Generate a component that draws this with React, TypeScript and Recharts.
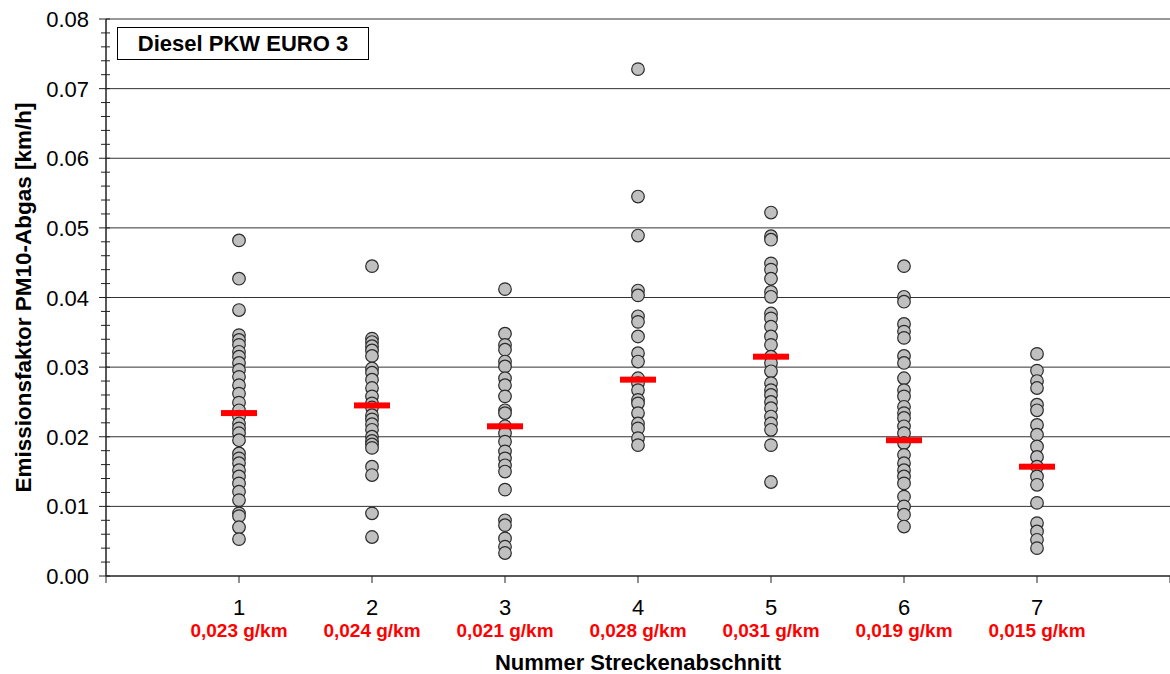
import React from 'react';
import { ScatterChart, Scatter, XAxis, YAxis, ReferenceLine } from 'recharts';

const sections = [1, 2, 3, 4, 5, 6, 7];
const meanLabels = ['0,023 g/km', '0,024 g/km', '0,021 g/km', '0,028 g/km', '0,031 g/km', '0,019 g/km', '0,015 g/km'];
const meanValues = [0.0234, 0.0245, 0.0215, 0.0282, 0.0315, 0.0195, 0.0157];

const s1 = [0.0482, 0.0427, 0.0382, 0.0346, 0.0339, 0.0332, 0.0322, 0.0315, 0.0306, 0.0296, 0.0286, 0.0274, 0.0262, 0.0249, 0.0238, 0.0229, 0.0219, 0.0212, 0.0205, 0.0195, 0.0176, 0.0169, 0.0162, 0.0152, 0.0143, 0.0133, 0.0121, 0.0109, 0.0090, 0.0086, 0.0070, 0.0053];
const s2 = [0.0445, 0.0341, 0.0336, 0.0330, 0.0324, 0.0316, 0.0298, 0.0292, 0.0282, 0.0270, 0.0258, 0.0248, 0.0242, 0.0231, 0.0225, 0.0218, 0.0210, 0.0200, 0.0194, 0.0189, 0.0184, 0.0157, 0.0145, 0.0090, 0.0056];
const s3 = [0.0412, 0.0348, 0.0332, 0.0325, 0.0308, 0.0301, 0.0284, 0.0274, 0.0258, 0.0238, 0.0234, 0.0215, 0.0205, 0.0193, 0.0179, 0.0169, 0.0159, 0.0150, 0.0124, 0.0080, 0.0073, 0.0054, 0.0042, 0.0033];
const s4 = [0.0728, 0.0545, 0.0489, 0.0410, 0.0403, 0.0373, 0.0365, 0.0344, 0.0320, 0.0308, 0.0284, 0.0277, 0.0267, 0.0253, 0.0248, 0.0234, 0.0219, 0.0212, 0.0198, 0.0188];
const s5 = [0.0522, 0.0488, 0.0483, 0.0449, 0.0440, 0.0427, 0.0408, 0.0401, 0.0377, 0.0370, 0.0358, 0.0344, 0.0332, 0.0315, 0.0306, 0.0294, 0.0277, 0.0267, 0.0260, 0.0250, 0.0241, 0.0229, 0.0219, 0.0210, 0.0188, 0.0135];
const s6 = [0.0445, 0.0401, 0.0394, 0.0362, 0.0351, 0.0342, 0.0316, 0.0306, 0.0284, 0.0267, 0.0258, 0.0243, 0.0234, 0.0227, 0.0215, 0.0205, 0.0191, 0.0174, 0.0162, 0.0152, 0.0143, 0.0133, 0.0114, 0.0100, 0.0088, 0.0071];
const s7 = [0.0319, 0.0295, 0.0280, 0.0270, 0.0246, 0.0238, 0.0217, 0.0203, 0.0186, 0.0171, 0.0157, 0.0143, 0.0131, 0.0105, 0.0076, 0.0064, 0.0052, 0.0040];
const seriesValues = [s1, s2, s3, s4, s5, s6, s7];

const yTicks: number[] = [];
for (let i = 0; i <= 40; i++) yTicks.push(Math.round(i * 2) / 1000);
const yMajor = [0.01, 0.02, 0.03, 0.04, 0.05, 0.06, 0.07, 0.08];
const xTicks = [0, 1, 2, 3, 4, 5, 6, 7, 8];

const FONT = '"Liberation Sans", Arial, sans-serif';

const pointData = sections.flatMap((s, i) => seriesValues[i].map((v) => ({ x: s, y: v })));
const meanData = sections.map((s, i) => ({ x: s, y: meanValues[i] }));

const YTick = (props: any) => {
  const { x, y, payload } = props;
  const v = payload.value;
  const isMajor = Math.abs(v * 100 - Math.round(v * 100)) < 1e-6;
  return (
    <g>
      {isMajor ? (
        <>
          <line x1={x - 7} x2={x + 4} y1={y} y2={y} stroke="#222" />
          <text x={x - 17} y={y} dy={8} textAnchor="end" fontFamily={FONT} fontSize={22} fill="#000">
            {v.toFixed(2)}
          </text>
        </>
      ) : (
        <line x1={x - 5} x2={x + 4} y1={y} y2={y} stroke="#222" />
      )}
    </g>
  );
};

const XTick = (props: any) => {
  const { x, y, payload } = props;
  const v = payload.value;
  const idx = sections.indexOf(v);
  return (
    <g>
      <line x1={x} x2={x} y1={y} y2={y + 7} stroke="#222" />
      {idx >= 0 && (
        <>
          <text x={x} y={y + 39} textAnchor="middle" fontFamily={FONT} fontSize={22} fill="#000">
            {v}
          </text>
          <text x={x} y={y + 61} textAnchor="middle" fontFamily={FONT} fontSize={19} fontWeight="bold" fill="#ff0000">
            {meanLabels[idx]}
          </text>
        </>
      )}
    </g>
  );
};

const PointShape = (props: any) => (
  <circle cx={props.cx} cy={props.cy} r={6.3} fill="#c0c0c0" stroke="#2a2a2a" strokeWidth={1.2} />
);

const MeanShape = (props: any) => (
  <rect x={props.cx - 18} y={props.cy - 3} width={36} height={6} fill="#ff0000" />
);

const YLabel = (props: any) => {
  const vb = props.viewBox;
  const cx = 23;
  const cy = vb.y + vb.height / 2;
  return (
    <text
      x={cx}
      y={cy}
      transform={`rotate(-90 ${cx} ${cy})`}
      textAnchor="middle"
      dominantBaseline="central"
      fontFamily={FONT}
      fontSize={22.5}
      fontWeight="bold"
      fill="#000"
    >
      Emissionsfaktor PM10-Abgas [km/h]
    </text>
  );
};

export default function App() {
  return (
    <div style={{ position: 'absolute', left: 0, top: 0, width: 1170, height: 674, background: '#fff' }}>
      <ScatterChart width={1170} height={674} margin={{ top: 19, right: 0, left: 0, bottom: 0 }}>
        {yMajor.map((v) => (
          <ReferenceLine key={v} y={v} stroke="#333" strokeWidth={1} ifOverflow="visible" />
        ))}
        <XAxis
          type="number"
          dataKey="x"
          domain={[0, 8]}
          ticks={xTicks}
          interval={0}
          allowDecimals={false}
          tickLine={false}
          tickSize={0}
          tickMargin={0}
          height={98}
          axisLine={{ stroke: '#222', strokeWidth: 1.5 }}
          tick={<XTick />}
          label={{
            value: 'Nummer Streckenabschnitt',
            position: 'insideBottom',
            offset: 4,
            style: { fontFamily: FONT, fontSize: 22, fontWeight: 'bold', fill: '#000' },
          }}
        />
        <YAxis
          type="number"
          dataKey="y"
          domain={[0, 0.08]}
          ticks={yTicks}
          interval={0}
          tickLine={false}
          tickSize={0}
          tickMargin={0}
          width={106}
          axisLine={{ stroke: '#222', strokeWidth: 1.5 }}
          tick={<YTick />}
          label={<YLabel />}
        />
        <Scatter data={pointData} shape={<PointShape />} isAnimationActive={false} />
        <Scatter data={meanData} shape={<MeanShape />} isAnimationActive={false} />
      </ScatterChart>
      <div
        style={{
          position: 'absolute',
          left: 117,
          top: 27,
          width: 252,
          height: 33,
          border: '1px solid #000',
          background: '#fff',
          boxSizing: 'border-box',
          fontFamily: FONT,
          fontSize: 22,
          fontWeight: 'bold',
          textAlign: 'center',
          lineHeight: '31px',
          color: '#000',
        }}
      >
        Diesel PKW EURO 3
      </div>
    </div>
  );
}
